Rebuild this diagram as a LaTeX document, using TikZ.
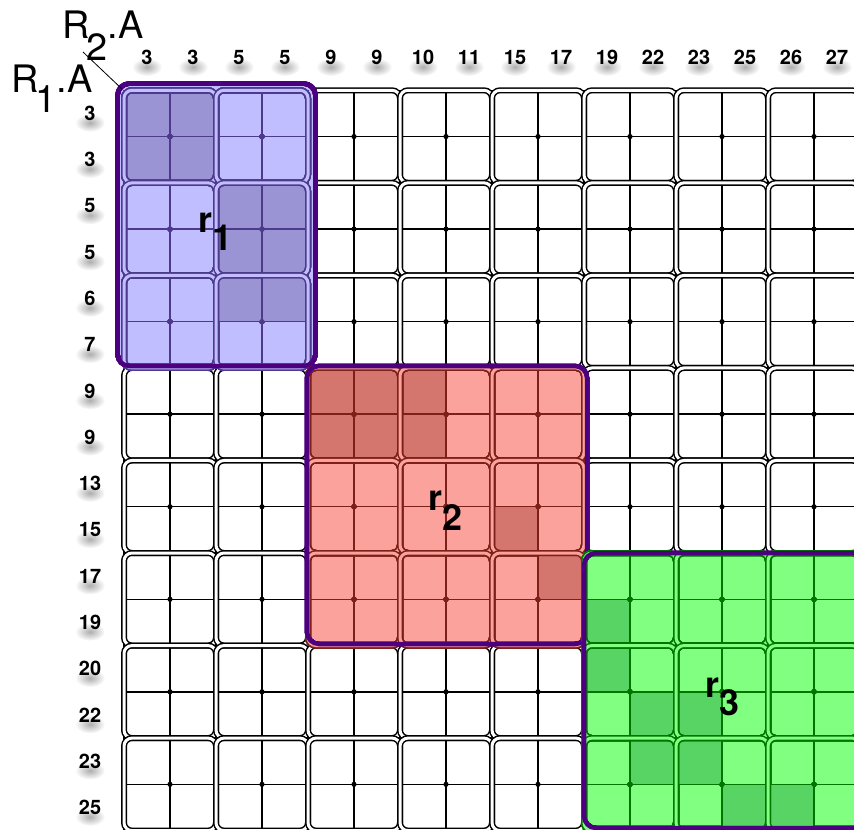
\documentclass[tikz,border=0pt]{standalone}
\usepackage{fontspec}
\setmainfont{TeX Gyre Heros}

\definecolor{blueLight}{RGB}{192,190,255}
\definecolor{blueDark}{RGB}{154,148,212}
\definecolor{blueLine}{RGB}{78,58,140}
\definecolor{redLight}{RGB}{250,162,155}
\definecolor{redDark}{RGB}{212,118,110}
\definecolor{redLine}{RGB}{125,32,26}
\definecolor{greenLight}{RGB}{128,255,128}
\definecolor{greenDark}{RGB}{88,212,100}
\definecolor{greenLine}{RGB}{0,118,0}
\definecolor{regionBorder}{RGB}{76,0,128}

\tikzset{
  cellline/.style={line width=1.4bp},
  blockframe/.style={rounded corners=8bp, line width=1.5bp, double distance=3bp},
  regionframe/.style={rounded corners=12bp, line width=4.5bp, draw=regionBorder},
  numlabel/.style={font=\bfseries\fontsize{20}{20}\selectfont, inner sep=0pt},
  numshadow/.style={inner color=black!32, outer color=white},
  axisname/.style={font=\fontsize{38}{38}\selectfont, inner sep=0pt, anchor=base west},
  regionname/.style={font=\bfseries\fontsize{36}{36}\selectfont, inner sep=0pt, anchor=base west},
}

% block (bx,by): 2x2 cells, 92 x 92.54, grid starts at (124,90.3)
\newcommand{\blockfills}[5]{%
  \foreach \bx in {#1,...,#2}
    \foreach \by in {#3,...,#4}
      \fill[#5] (124+92*\bx,90.3+92.54*\by) rectangle ++(92,92.54);
}
\newcommand{\blocklines}[5]{%
  \foreach \bx in {#1,...,#2}
    \foreach \by in {#3,...,#4} {
      \draw[cellline,#5] (124+92*\bx,90.3+92.54*\by) rectangle ++(92,92.54);
      \draw[cellline,#5] (170+92*\bx,90.3+92.54*\by) -- ++(0,92.54);
      \draw[cellline,#5] (124+92*\bx,136.57+92.54*\by) -- ++(92,0);
      \fill[#5] (170+92*\bx,136.57+92.54*\by) circle (2.6);
    }
}
\newcommand{\blockframes}[6]{%
  \foreach \bx in {#1,...,#2}
    \foreach \by in {#3,...,#4}
      \draw[blockframe,draw=#5,double=#6] (124+92*\bx,90.3+92.54*\by) rectangle ++(92,92.54);
}
% cell (column i, row j)
\newcommand{\darkcell}[3]{\fill[#1] (78+46*#2,44.03+46.27*#3) rectangle ++(46,46.27);}

\begin{document}
\begin{tikzpicture}[x=1bp,y=-1bp]
\useasboundingbox (0,0) rectangle (854,830);
\clip (0,0) rectangle (854,830);

% Grid
\blockfills{0}{7}{0}{7}{white}
\blocklines{0}{7}{0}{7}{black}
\blockframes{0}{7}{0}{7}{black}{white}

% Region r1
\fill[blueLight,rounded corners=12bp] (117.5,83.5) rectangle (315.5,366);
\blockfills{0}{1}{0}{2}{blueLight}
\foreach \i/\j in {1/1,2/1,1/2,2/2,3/3,4/3,3/4,4/4,3/5,4/5}
  \darkcell{blueDark}{\i}{\j}
\blocklines{0}{1}{0}{2}{blueLine}
\blockframes{0}{1}{0}{2}{blueLine}{blueLight}
\draw[regionframe] (117.5,83.5) rectangle (315.5,366);

% Region r2
\fill[redLight,rounded corners=12bp] (307,366) rectangle (587,644);
\blockfills{2}{4}{3}{5}{redLight}
\foreach \i/\j in {5/7,6/7,7/7,5/8,6/8,7/8,9/10,10/11}
  \darkcell{redDark}{\i}{\j}
\blocklines{2}{4}{3}{5}{redLine}
\blockframes{2}{4}{3}{5}{redLine}{redLight}
\draw[regionframe] (307,366) rectangle (587,644);

% Region r3
\fill[greenLight,rounded corners=12bp] (584,553) rectangle (900,828);
\blockfills{5}{7}{5}{7}{greenLight}
\foreach \i/\j in {11/12,11/13,12/14,13/14,12/15,13/15,14/16,15/16}
  \darkcell{greenDark}{\i}{\j}
\blocklines{5}{7}{5}{7}{greenLine}
\blockframes{5}{7}{5}{7}{greenLine}{greenLight}
\draw[regionframe] (584,553) rectangle (900,828);

% Attribute values
\foreach \i in {1,...,16}
  \shade[numshadow] (101+46*\i,67) ellipse (15 and 9);
\foreach \j in {1,...,16}
  \shade[numshadow] (90,76.5+46.27*\j) ellipse (15 and 9);
\foreach \v [count=\i] in {3,3,5,5,9,9,10,11,15,17,19,22,23,25,26,27}
  \node[numlabel] (col\i) at (101+46*\i,57.5) {\v};
\foreach \v [count=\j] in {3,3,5,5,6,7,9,9,13,15,17,19,20,22,23,25}
  \node[numlabel] (row\j) at (90,67.17+46.27*\j) {\v};

% Axis names
\node[axisname] (rtwo) at (62,38) {R\kern-3bp\raisebox{-22bp}{2}.A};
\node[axisname] (rone) at (11,92) {R\kern-3bp\raisebox{-20bp}{1}.A};
\coordinate (diagtop) at (83,52);
\coordinate (diagbot) at (122,89);
\draw[line width=0.8bp] (diagtop) -- (diagbot);

% Region names
\node[regionname] (rname1) at (198,232) {r\raisebox{-18bp}{1}};
\node[regionname] (rname2) at (428,510) {r\raisebox{-20bp}{2}};
\node[regionname] (rname3) at (705,697) {r\raisebox{-18bp}{3}};

\end{tikzpicture}
\end{document}
